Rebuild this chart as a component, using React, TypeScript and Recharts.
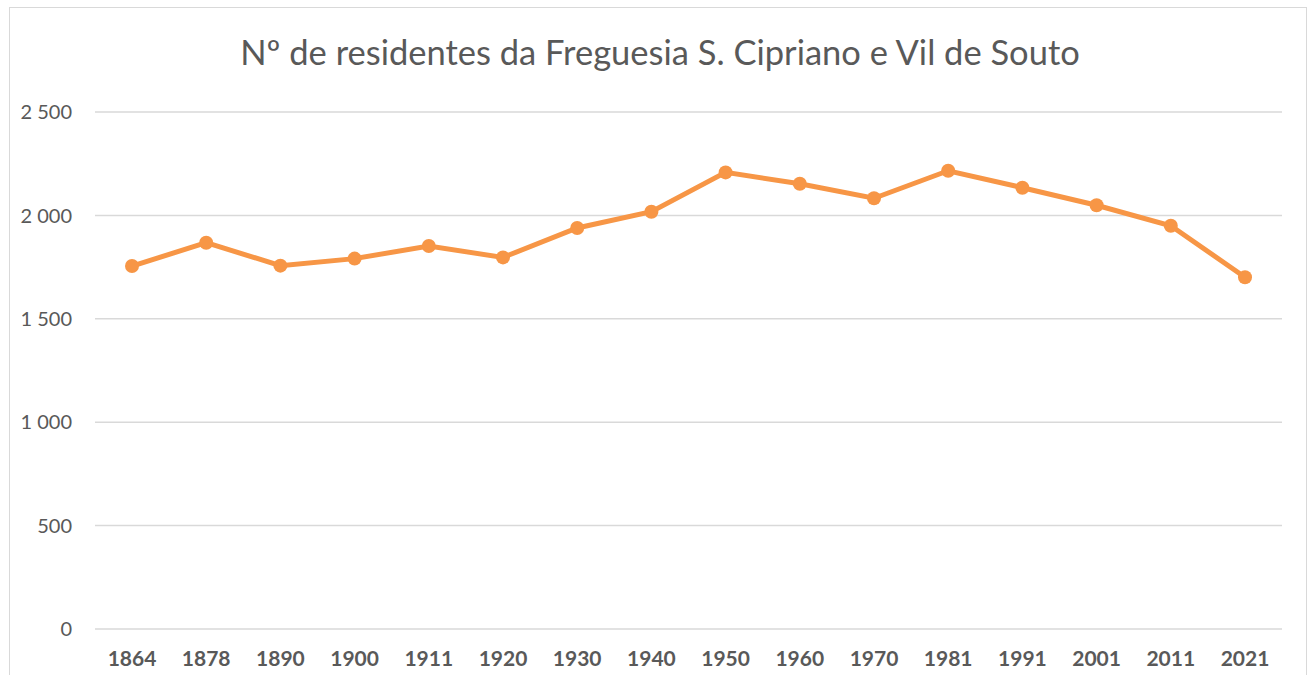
import { LineChart, Line, XAxis, YAxis, CartesianGrid } from "recharts";

const years = [
  "1864", "1878", "1890", "1900", "1911", "1920", "1930", "1940",
  "1950", "1960", "1970", "1981", "1991", "2001", "2011", "2021",
];
const residents = [
  1755, 1868, 1757, 1791, 1852, 1797, 1939, 2018,
  2208, 2153, 2083, 2216, 2134, 2049, 1950, 1701,
];
const yTicks = [0, 500, 1000, 1500, 2000, 2500];

const chartTitle = "Nº de residentes da Freguesia S. Cipriano e Vil de Souto";

const data = years.map((year, i) => ({ year, residents: residents[i] }));

const formatThousands = (v: number) =>
  v >= 1000 ? `${Math.floor(v / 1000)} ${String(v % 1000).padStart(3, "0")}` : String(v);

export default function App() {
  return (
    <div
      style={{
        position: "absolute",
        left: 0,
        top: 0,
        width: 1315,
        height: 675,
        overflow: "hidden",
        background: "#fff",
        fontFamily: "Lato, sans-serif",
      }}
    >
      <div
        style={{
          position: "absolute",
          left: 9,
          top: 7,
          width: 1298,
          height: 700,
          border: "1px solid #d9d9d9",
          boxSizing: "border-box",
        }}
      />
      <div
        style={{
          position: "absolute",
          left: 0,
          top: 28,
          width: 1320,
          textAlign: "center",
          fontSize: 34.5,
          color: "#595959",
          lineHeight: "48px",
        }}
      >
        {chartTitle}
      </div>
      <div style={{ position: "absolute", left: 0, top: 0 }}>
        <LineChart
          width={1315}
          height={675}
          data={data}
          margin={{ top: 112, right: 33, bottom: 0, left: 0 }}
        >
          <CartesianGrid vertical={false} stroke="#d9d9d9" strokeWidth={1.5} />
          <XAxis
            dataKey="year"
            height={46}
            axisLine={false}
            tickLine={false}
            tickSize={0}
            tickMargin={22}
            padding={{ left: 37, right: 37 }}
            tick={{ fill: "#595959", fontSize: 21, fontWeight: 700 }}
            interval={0}
          />
          <YAxis
            width={95}
            domain={[0, 2500]}
            ticks={yTicks}
            axisLine={false}
            tickLine={false}
            tickSize={0}
            tickMargin={23}
            tickFormatter={formatThousands}
            tick={{ fill: "#595959", fontSize: 20 }}
          />
          <Line
            type="linear"
            dataKey="residents"
            stroke="#f79646"
            strokeWidth={5}
            dot={{ r: 7, fill: "#f79646", stroke: "#f79646", strokeWidth: 0 }}
            isAnimationActive={false}
          />
        </LineChart>
      </div>
    </div>
  );
}
